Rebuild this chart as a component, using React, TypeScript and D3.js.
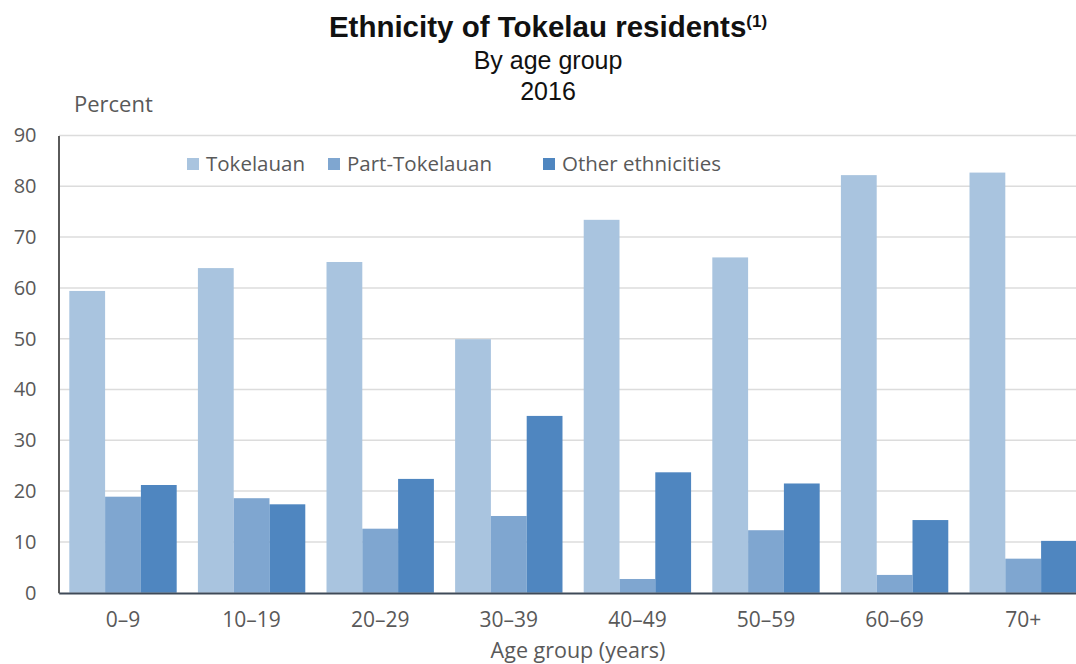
import React, { useRef, useEffect } from "react";
import * as d3 from "d3";

const ageGroups = ["0–9", "10–19", "20–29", "30–39", "40–49", "50–59", "60–69", "70+"];
const seriesNames = ["Tokelauan", "Part-Tokelauan", "Other ethnicities"];
const tokelauan = [59.4, 63.9, 65.1, 49.9, 73.4, 66.0, 82.2, 82.7];
const partTokelauan = [18.9, 18.6, 12.6, 15.1, 2.7, 12.3, 3.5, 6.7];
const otherEthnicities = [21.2, 17.4, 22.4, 34.8, 23.7, 21.5, 14.3, 10.2];
const yTicks = [0, 10, 20, 30, 40, 50, 60, 70, 80, 90];
const colors = ["#a9c4df", "#7fa6d0", "#4f86c0"];

const width = 1076;
const height = 664;
const labelFont = "'Open Sans', 'Noto Sans', sans-serif";
const titleFont = "'Liberation Sans', Arial, sans-serif";

const App = () => {
  const ref = useRef(null);

  useEffect(() => {
    if (!ref.current) return;
    const svg = d3.select(ref.current);
    svg.selectAll("*").remove();

    const values = [tokelauan, partTokelauan, otherEthnicities];

    // plot area runs past the right edge, like the source image
    const x = d3
      .scaleBand()
      .domain(ageGroups)
      .range([58.7, 1087.5])
      .paddingInner(0.165)
      .paddingOuter(0.0825);

    const xInner = d3
      .scaleBand()
      .domain(seriesNames)
      .range([0, x.bandwidth()]);

    const y = d3.scaleLinear().domain([0, 90]).range([592.7, 135.5]);

    // gridlines
    svg
      .append("g")
      .selectAll("line")
      .data(yTicks.filter((t) => t > 0))
      .enter()
      .append("line")
      .attr("x1", 59)
      .attr("x2", width)
      .attr("y1", (d) => y(d))
      .attr("y2", (d) => y(d))
      .attr("stroke", "#dcdcdc")
      .attr("stroke-width", 1.5);

    // bars
    const groups = svg
      .append("g")
      .selectAll("g")
      .data(ageGroups)
      .enter()
      .append("g")
      .attr("transform", (d) => `translate(${x(d)},0)`);

    groups
      .selectAll("rect")
      .data((d, i) => seriesNames.map((s, k) => ({ s, k, v: values[k][i] })))
      .enter()
      .append("rect")
      .attr("x", (d) => xInner(d.s) ?? 0)
      .attr("width", xInner.bandwidth())
      .attr("y", (d) => y(d.v))
      .attr("height", (d) => y(0) - y(d.v))
      .attr("fill", (d) => colors[d.k]);

    // y axis
    const yAxis = svg
      .append("g")
      .attr("transform", "translate(58.5,0)")
      .call(d3.axisLeft(y).tickValues(yTicks).tickSize(0).tickPadding(22));
    yAxis.select(".domain").attr("stroke", "#5a5a5a").attr("stroke-width", 2);
    yAxis
      .selectAll("text")
      .attr("font-family", labelFont)
      .attr("font-size", 20)
      .attr("fill", "#595959");

    // x axis
    const xAxis = svg
      .append("g")
      .attr("transform", "translate(0,593)")
      .call(d3.axisBottom(x).tickSize(0).tickPadding(19));
    xAxis.select(".domain").attr("stroke", "#3f4a58").attr("stroke-width", 2);
    xAxis
      .selectAll("text")
      .attr("font-family", labelFont)
      .attr("font-size", 21)
      .attr("fill", "#595959");

    // axis titles
    svg
      .append("text")
      .attr("x", 74)
      .attr("y", 112)
      .attr("font-family", labelFont)
      .attr("font-size", 22)
      .attr("fill", "#595959")
      .text("Percent");

    svg
      .append("text")
      .attr("x", 578)
      .attr("y", 658)
      .attr("text-anchor", "middle")
      .attr("font-family", labelFont)
      .attr("font-size", 21.5)
      .attr("fill", "#595959")
      .text("Age group (years)");

    // titles
    const title = svg
      .append("text")
      .attr("x", 548)
      .attr("y", 37)
      .attr("text-anchor", "middle")
      .attr("font-family", titleFont)
      .attr("font-weight", "bold")
      .attr("font-size", 29.5)
      .attr("fill", "#111");
    title.append("tspan").text("Ethnicity of Tokelau residents");
    title
      .append("tspan")
      .attr("font-size", 17)
      .attr("dy", -10)
      .text("(1)");

    svg
      .append("text")
      .attr("x", 548)
      .attr("y", 69)
      .attr("text-anchor", "middle")
      .attr("font-family", titleFont)
      .attr("font-size", 25)
      .attr("fill", "#111")
      .text("By age group");

    svg
      .append("text")
      .attr("x", 548)
      .attr("y", 100)
      .attr("text-anchor", "middle")
      .attr("font-family", titleFont)
      .attr("font-size", 25)
      .attr("fill", "#111")
      .text("2016");

    // legend
    const legendX = [187, 328, 543];
    const legend = svg
      .append("g")
      .selectAll("g")
      .data(seriesNames)
      .enter()
      .append("g")
      .attr("transform", (d, i) => `translate(${legendX[i]},164)`);
    legend
      .append("rect")
      .attr("x", 0)
      .attr("y", -6)
      .attr("width", 12)
      .attr("height", 12)
      .attr("fill", (d, i) => colors[i]);
    legend
      .append("text")
      .attr("x", 19)
      .attr("y", 0)
      .attr("dy", "0.35em")
      .attr("font-family", labelFont)
      .attr("font-size", 20.5)
      .attr("fill", "#595959")
      .text((d) => d);
  }, []);

  return (
    <svg
      ref={ref}
      width={width}
      height={height}
      style={{ position: "absolute", left: 0, top: 0, background: "#fff" }}
    />
  );
};

export default App;
